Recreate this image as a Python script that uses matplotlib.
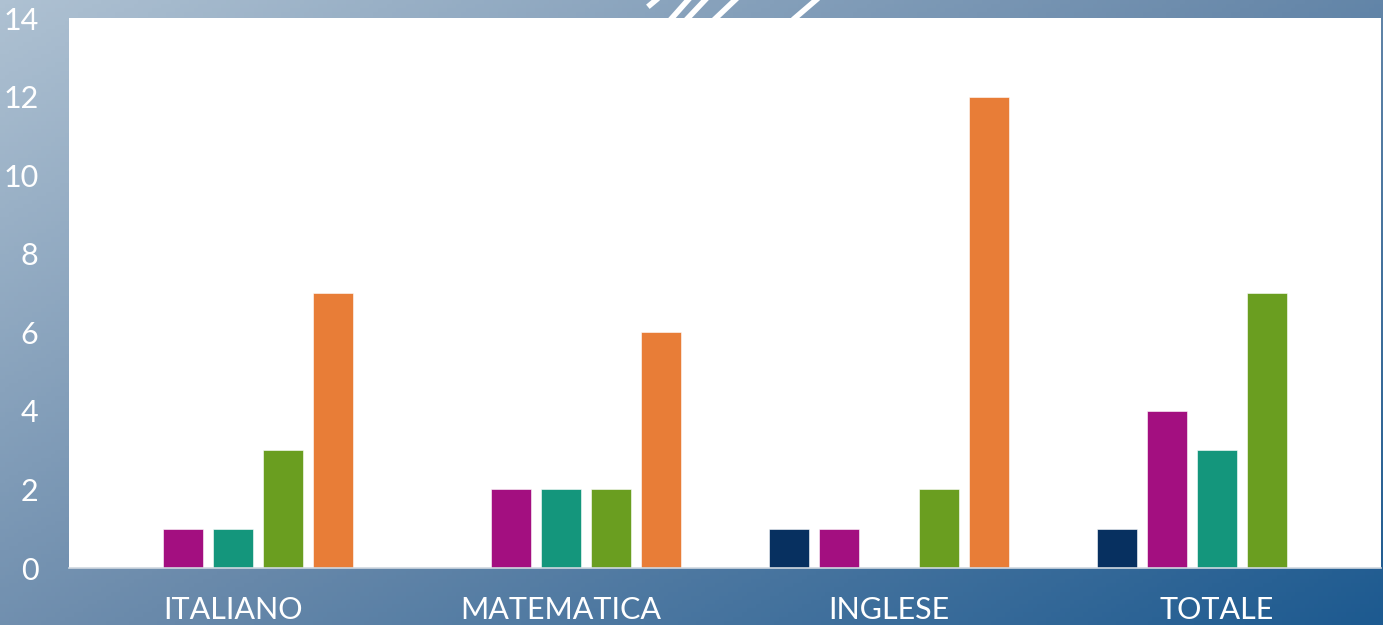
import numpy as np
import matplotlib.pyplot as plt
from matplotlib.colors import LinearSegmentedColormap
from matplotlib.lines import Line2D

categories = ['ITALIANO', 'MATEMATICA', 'INGLESE', 'TOTALE']
series_navy = [0, 0, 1, 1]
series_magenta = [1, 2, 1, 4]
series_teal = [1, 2, 0, 3]
series_green = [3, 2, 2, 7]
series_orange = [7, 6, 12, 0]
yticks = [0, 2, 4, 6, 8, 10, 12, 14]

series = [series_navy, series_magenta, series_teal, series_green, series_orange]
colors = ['#073060', '#a30f80', '#14967c', '#6a9e20', '#e87d37']

plt.rcParams['font.family'] = ['Lato', 'DejaVu Sans']

fig = plt.figure(figsize=(13.83, 6.25), dpi=100)

# gradient background
bg = fig.add_axes([0, 0, 1, 1])
gx, gy = np.meshgrid(np.linspace(0, 1, 300), np.linspace(0, 1, 150))
grad = 0.55 * gx + 0.45 * gy
cmap = LinearSegmentedColormap.from_list('bg', ['#aec1d2', '#6a8aab', '#1d5a90'])
bg.imshow(grad, cmap=cmap, aspect='auto', extent=[0, 1, 0, 1], origin='upper')
bg.set_axis_off()

# decorative stripes at top
W, H = 1383, 625
stripes = [((650, 5), (656, 0)), ((672, 18), (688, 0)), ((688, 18), (705, 0)),
           ((716, 18), (735, 0)), ((795, 18), (816, 0))]
for (x0, y0), (x1, y1) in stripes:
    fig.add_artist(Line2D([x0 / W, x1 / W], [1 - y0 / H, 1 - y1 / H],
                          color='white', lw=4, transform=fig.transFigure))

ax = fig.add_axes([69 / W, 1 - 568 / H, (1381 - 69) / W, (568 - 18) / H])
ax.set_facecolor('white')

x = np.arange(len(categories))
step = 0.1524
width = 0.122
for i, (vals, c) in enumerate(zip(series, colors)):
    ax.bar(x + (i - 2) * step, vals, width, color=c, edgecolor='white', linewidth=0.4)

ax.set_xlim(-0.5, 3.5)
ax.set_ylim(0, 14)
ax.set_yticks(yticks)
ax.set_yticklabels([str(t) for t in yticks])
ax.set_xticks(x)
ax.set_xticklabels(categories)
ax.tick_params(axis='both', length=0, labelcolor='white', labelsize=22)
ax.tick_params(axis='y', pad=22)
ax.tick_params(axis='x', pad=20)
for s in ['top', 'right', 'left']:
    ax.spines[s].set_visible(False)
ax.spines['bottom'].set_color('#d0d8e0')
ax.spines['bottom'].set_linewidth(1.2)

fig.savefig('out.png', dpi=100)
